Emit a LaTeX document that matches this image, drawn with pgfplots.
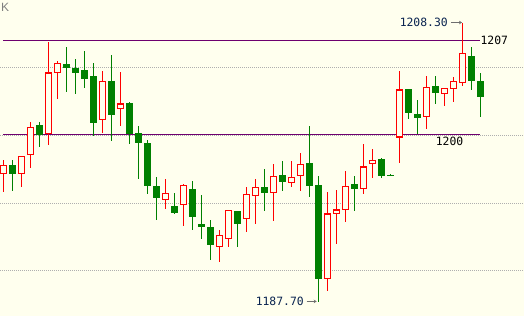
\documentclass[border=0pt]{standalone}
\usepackage{pgfplots}
\pgfplotsset{compat=1.18}
\usepackage{pgfplotstable}
\usepackage{fontspec}
\usetikzlibrary{arrows.meta}
\setmainfont{Liberation Sans}
\newfontfamily\monof{DejaVu Sans Mono}
\definecolor{bg}{RGB}{255,255,238}
\definecolor{upred}{RGB}{255,0,0}
\definecolor{dngreen}{RGB}{0,128,0}
\definecolor{hline}{RGB}{110,0,110}
\definecolor{gridc}{RGB}{175,175,175}
\definecolor{lblc}{RGB}{10,36,80}
\definecolor{arrc}{RGB}{110,110,110}

% up candles (red, hollow)
\pgfplotstableread{
i o h l c
1 1197.12 1198.18 1195.83 1197.78
3 1197.12 1198.45 1196.20 1198.45
4 1198.52 1200.96 1197.61 1200.59
6 1200.07 1206.91 1199.31 1204.65
7 1204.58 1205.47 1202.70 1205.39
12 1201.11 1204.75 1200.19 1203.99
14 1201.92 1204.68 1200.69 1202.36
19 1195.20 1196.77 1194.58 1195.79
21 1194.83 1196.40 1193.32 1196.31
25 1191.73 1193.01 1190.66 1192.61
26 1192.32 1194.46 1191.77 1194.46
28 1193.80 1196.18 1192.88 1195.64
29 1195.52 1196.77 1193.47 1196.23
31 1195.74 1197.88 1193.69 1196.97
33 1196.46 1198.10 1196.20 1196.90
34 1196.97 1198.67 1195.91 1197.88
37 1189.36 1195.83 1188.50 1194.24
38 1194.17 1195.94 1191.97 1194.53
39 1194.51 1197.36 1193.62 1196.26
41 1196.01 1199.36 1195.69 1197.71
42 1197.86 1198.99 1196.87 1198.18
45 1199.85 1204.75 1197.93 1203.40
48 1201.33 1204.38 1200.49 1203.55
50 1203.03 1203.47 1202.19 1203.47
51 1203.40 1204.31 1202.46 1204.01
52 1203.84 1208.30 1203.62 1206.06
}\up

% down candles (green, filled)
\pgfplotstableread{
i o h l c
2 1197.81 1198.18 1195.91 1197.16
5 1200.74 1200.96 1199.16 1200.00
8 1205.27 1206.52 1203.22 1204.99
9 1204.97 1205.64 1203.07 1204.62
10 1204.80 1206.23 1203.52 1204.18
11 1204.38 1205.34 1199.97 1200.93
13 1204.01 1205.93 1199.60 1201.52
15 1202.39 1202.48 1199.38 1200.10
16 1200.15 1200.69 1196.79 1199.41
17 1199.43 1199.65 1195.69 1196.23
18 1196.26 1196.94 1193.77 1195.39
20 1194.78 1195.74 1194.19 1194.28
22 1196.03 1196.62 1193.03 1193.99
23 1193.45 1195.59 1192.36 1193.25
24 1193.23 1193.74 1190.81 1191.92
27 1194.41 1194.41 1191.77 1193.47
30 1196.23 1197.56 1194.43 1195.76
32 1197.05 1198.10 1195.89 1196.57
35 1197.95 1200.69 1195.44 1196.28
36 1196.33 1196.99 1187.70 1189.39
40 1196.40 1196.99 1194.41 1196.06
43 1198.27 1198.35 1196.87 1197.02
44 1197.09 1197.14 1197.02 1197.02
46 1203.42 1203.42 1201.23 1201.67
47 1201.57 1202.58 1200.07 1201.28
49 1203.64 1204.38 1202.33 1203.10
53 1205.83 1206.52 1203.35 1204.03
54 1203.99 1204.62 1201.35 1202.85
}\down

\pgfplotsset{candle/.style args={#1/#2}{draw=none, no markers, forget plot,
  error bars/.cd, y dir=both, y explicit, error mark=none,
  error bar style={draw=#1, line width=#2, solid}}}

\begin{document}
\begin{tikzpicture}
\begin{axis}[
  width=524pt, height=316pt, scale only axis,
  xmin=0.6222, xmax=58.844, ymin=1186.654, ymax=1209.993,
  axis line style={draw=none}, xtick=\empty, ytick=\empty,
  axis background/.style={fill=bg},
]
% dotted grid lines
\addplot[gridc, line width=0.9pt, dash pattern=on 1pt off 1pt, forget plot] coordinates {(0.6222,1205) (58.844,1205)};
\addplot[gridc, line width=0.9pt, dash pattern=on 1pt off 1pt, forget plot] coordinates {(0.6222,1200) (58.844,1200)};
\addplot[gridc, line width=0.9pt, dash pattern=on 1pt off 1pt, forget plot] coordinates {(0.6222,1195) (58.844,1195)};
\addplot[gridc, line width=0.9pt, dash pattern=on 1pt off 1pt, forget plot] coordinates {(0.6222,1190) (58.844,1190)};
% horizontal level lines
\addplot[hline, line width=1.2pt, forget plot] coordinates {(0.956,1207) (53.96,1207)};
\addplot[hline, line width=1.2pt, forget plot] coordinates {(0.956,1200.07) (53.96,1200.07)};

% up candles
\addplot[candle=upred/1.1pt] table[x=i, y expr=(\thisrow{h}+\thisrow{l})/2, y error expr=(\thisrow{h}-\thisrow{l})/2] {\up};
\addplot[candle=upred/6.4pt] table[x=i, y expr=(\thisrow{o}+\thisrow{c})/2, y error expr=abs(\thisrow{c}-\thisrow{o})/2] {\up};
\addplot[candle=bg/4.2pt] table[x=i, y expr=(\thisrow{o}+\thisrow{c})/2, y error expr=abs(\thisrow{c}-\thisrow{o})/2-0.08] {\up};
% down candles
\addplot[candle=dngreen/1.1pt] table[x=i, y expr=(\thisrow{h}+\thisrow{l})/2, y error expr=(\thisrow{h}-\thisrow{l})/2] {\down};
\addplot[candle=dngreen/6.6pt] table[x=i, y expr=(\thisrow{o}+\thisrow{c})/2, y error expr=abs(\thisrow{c}-\thisrow{o})/2] {\down};

% labels
\node[anchor=west, inner sep=0, font=\monof\fontsize{11.4}{12}\selectfont] at (axis cs:54.0,1207) {1207};
\node[anchor=west, inner sep=0, font=\monof\fontsize{11.4}{12}\selectfont] at (axis cs:49.03,1199.56) {1200};
\node[anchor=east, inner sep=0, text=lblc, font=\monof\fontsize{11.4}{12}\selectfont] at (axis cs:50.4,1208.33) {1208.30};
\draw[arrc, line width=0.8pt, -{Stealth[length=3pt,width=3.5pt]}] (axis cs:50.73,1208.33) -- (axis cs:51.96,1208.33);
\node[anchor=east, inner sep=0, text=lblc, font=\monof\fontsize{11.4}{12}\selectfont] at (axis cs:34.4,1187.73) {1187.70};
\draw[arrc, line width=0.8pt, -{Stealth[length=3pt,width=3.5pt]}] (axis cs:34.70,1187.73) -- (axis cs:35.81,1187.73);
\node[anchor=north west, inner sep=0, text=gray, font=\fontsize{12}{13}\selectfont] at (axis cs:0.733,1209.77) {K};
\end{axis}
\end{tikzpicture}
\end{document}
